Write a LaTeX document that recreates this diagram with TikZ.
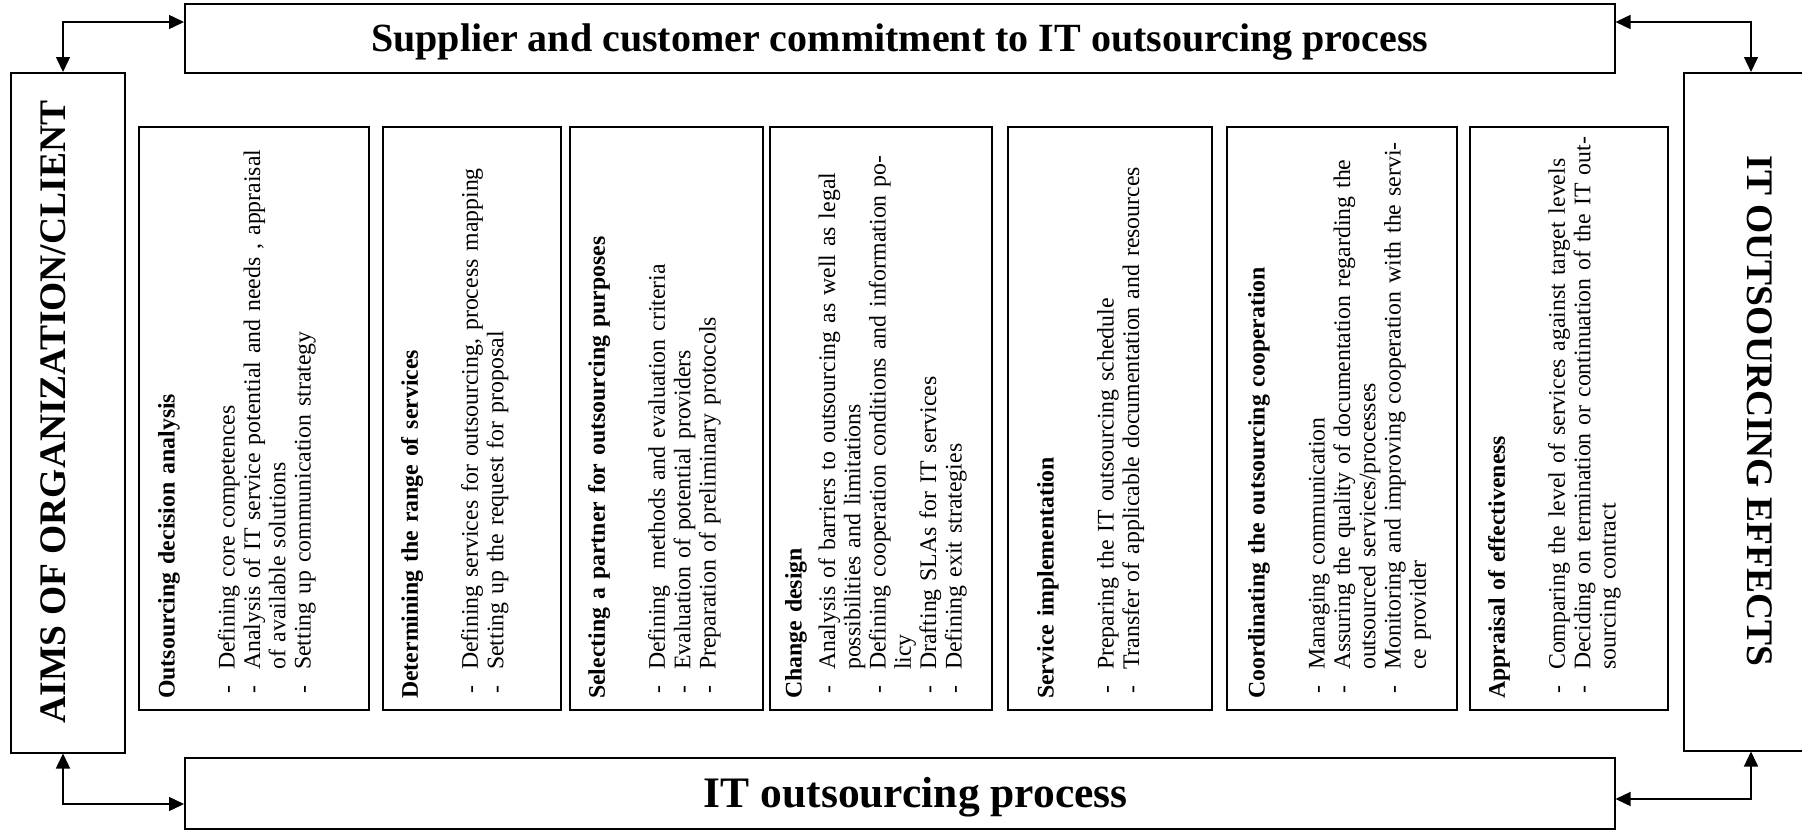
\documentclass[tikz,border=0pt]{standalone}
\usepackage{fontspec}
\setmainfont{Liberation Serif}
\usetikzlibrary{arrows.meta,calc}
\newcommand{\dashline}[1]{\par\noindent\makebox[29pt][l]{\hspace{5pt}-}#1}
\newcommand{\contline}[1]{\par\noindent\hspace*{29pt}#1}
\begin{document}
\begin{tikzpicture}[x=1pt,y=-1pt,
  frame/.style={draw, line width=1.5pt, rectangle, inner sep=0pt, anchor=north west},
  conn/.style={line width=1.5pt, {Triangle[length=15pt,width=14pt]}-{Triangle[length=15pt,width=14pt]}},
  intext/.style={rotate=90, anchor=north west, inner sep=0pt, text width=700pt, align=left,
    font=\fontsize{23.8}{25.3}\selectfont\setlength{\parskip}{0pt}},
  sidetext/.style={font=\bfseries\fontsize{37.5}{40}\selectfont, anchor=base, inner sep=0pt},
  bartext/.style={font=\bfseries\fontsize{40}{44}\selectfont, anchor=base, inner sep=0pt}
]
\useasboundingbox (0,0) rectangle (1802,835);
\fill[white] (0,0) rectangle (1802,835);

% outer boxes
\node[frame, minimum width=114pt, minimum height=680pt] (left) at (10,72) {};
\node[frame, minimum width=1430pt, minimum height=69pt] (top) at (184,3) {};
\node[frame, minimum width=1430pt, minimum height=71pt] (bottom) at (184,757) {};
\node[frame, minimum width=130pt, minimum height=678pt] (right) at (1683,72) {};

\node[sidetext, rotate=90] (aims) at (65,412) {AIMS OF ORGANIZATION/CLIENT};
\node[sidetext, rotate=-90] (effects) at (1747,411) {IT OUTSOURCING EFFECTS};
\node[bartext] (toptitle) at ([yshift=-13pt]top.center) {Supplier and customer commitment to IT outsourcing process};
\node[bartext, font=\bfseries\fontsize{43.5}{46}\selectfont] (bottitle) at ([xshift=16pt,yshift=-14pt]bottom.center) {IT outsourcing process};

% inner boxes
\node[frame, minimum width=230pt, minimum height=583pt] (b1) at (138,126) {};
\node[frame, minimum width=178pt, minimum height=583pt] (b2) at (382,126) {};
\node[frame, minimum width=193pt, minimum height=583pt] (b3) at (569,126) {};
\node[frame, minimum width=222pt, minimum height=583pt] (b4) at (769,126) {};
\node[frame, minimum width=204pt, minimum height=583pt] (b5) at (1007,126) {};
\node[frame, minimum width=230pt, minimum height=583pt] (b6) at (1226,126) {};
\node[frame, minimum width=198pt, minimum height=583pt] (b7) at (1469,126) {};

\node[intext] (t1) at (158,699) {\textbf{Outsourcing decision analysis}\par\vspace{34.7pt}
\dashline{Defining core competences}
\dashline{Analysis of IT service potential and needs , appraisal}
\contline{of available solutions}
\dashline{Setting up communication strategy}};

\node[intext] (t2) at (401,699) {\textbf{Determining the range of services}\par\vspace{34.7pt}
\dashline{Defining services for outsourcing, process mapping}
\dashline{Setting up the request for proposal}};

\node[intext] (t3) at (588,699) {\textbf{Selecting a partner for outsourcing purposes}\par\vspace{34.7pt}
\dashline{Defining\ \ methods and evaluation criteria}
\dashline{Evaluation of potential providers}
\dashline{Preparation of preliminary protocols}};

\node[intext] (t4) at (785,699) {\textbf{Change design}\par\vspace{8pt}
\dashline{Analysis of barriers to outsourcing as well as legal}
\contline{possibilities and limitations}
\dashline{Defining cooperation conditions and information po-}
\contline{licy}
\dashline{Drafting SLAs for IT services}
\dashline{Defining exit strategies}};

\node[intext] (t5) at (1037,699) {\textbf{Service implementation}\par\vspace{34.7pt}
\dashline{Preparing the IT outsourcing schedule}
\dashline{Transfer of applicable documentation and resources}};

\node[intext] (t6) at (1248,699) {\textbf{Coordinating the outsourcing cooperation}\par\vspace{34.7pt}
\dashline{Managing communication}
\dashline{Assuring the quality of documentation regarding the}
\contline{outsourced services/processes}
\dashline{Monitoring and improving cooperation with the servi-}
\contline{ce provider}};

\node[intext] (t7) at (1488,699) {\textbf{Appraisal of effectiveness}\par\vspace{34.7pt}
\dashline{Comparing the level of services against target levels}
\dashline{Deciding on termination or continuation of the IT out-}
\contline{sourcing contract}};

% connectors
\coordinate (tl) at (63,22);
\coordinate (bl) at (63,804);
\coordinate (tr) at (1751,22);
\coordinate (br) at (1751,799);
\draw[conn] (left.north -| tl) -- (tl) -- (tl -| top.west);
\draw[conn] (left.south -| bl) -- (bl) -- (bl -| bottom.west);
\draw[conn] (tr -| top.east) -- (tr) -- (right.north -| tr);
\draw[conn] (br -| bottom.east) -- (br) -- (right.south -| br);
\end{tikzpicture}
\end{document}
